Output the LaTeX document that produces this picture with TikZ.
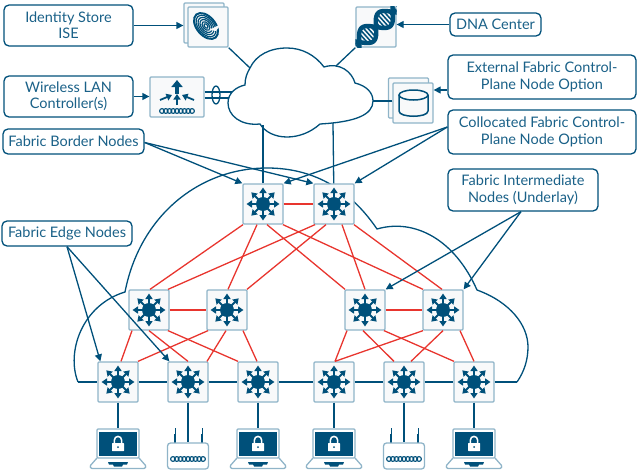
\documentclass[tikz,border=0pt]{standalone}
\usepackage{fontspec}
\setmainfont{Lato}
\usetikzlibrary{arrows.meta}
\definecolor{fabricblue}{HTML}{00507A}
\definecolor{labelblue}{HTML}{1A6188}
\definecolor{boxedge}{HTML}{8FB4C8}
\definecolor{boxfill}{HTML}{F8F9FA}
\definecolor{linkred}{HTML}{E8352E}
\tikzset{
  callout/.style={draw=fabricblue, line width=1.3pt, rounded corners=5pt, fill=white, text=labelblue,
    align=center, font=\fontsize{14.5}{16.2}\selectfont, inner sep=0pt},
  iconbox/.style={draw=boxedge, line width=1.3pt, fill=boxfill, rounded corners=1pt, inner sep=0pt,
    minimum width=40pt, minimum height=40pt},
  bluelink/.style={draw=fabricblue, line width=1.3pt},
  redlink/.style={draw=linkred, line width=1.3pt},
  pointer/.style={draw=fabricblue, line width=1.3pt, -{Triangle[length=7pt,width=7pt]}},
  glypharrow/.style={draw=fabricblue, line width=1.8pt, -{Triangle[length=5.5pt,width=7pt]}},
}
\newcommand{\swglyph}[1]{%
  \fill[fabricblue] (#1.center) circle (7);
  \foreach \ang in {0,45,...,315} {
    \draw[glypharrow] (#1.center) -- ++(\ang:16.5);
  }
}
\newcommand{\coilglyph}[3]{%
  \foreach \k in {0,...,8} {
    \draw[fabricblue, line width=1.1pt] ({#1+\k*#3},#2) circle (2.4);
  }
}
\begin{document}
\begin{tikzpicture}[x=1pt, y=-1pt]
  \useasboundingbox (0,0) rectangle (641,471);

  \coordinate (cloudL) at (78,382);
  \coordinate (cloudR) at (517,382);
  \draw[bluelink] (cloudL) .. controls (66,352) and (82,305) .. (125,292)
    .. controls (140,215) and (200,168) .. (267,168)
    .. controls (305,168) and (345,182) .. (377,229)
    .. controls (415,218) and (455,240) .. (477,290)
    .. controls (510,302) and (528,325) .. (528,347)
    .. controls (528,360) and (524,372) .. (cloudR);
  \draw[bluelink, fill=white] (250,68) .. controls (256,55) and (270,48) .. (287,48)
    .. controls (302,48) and (315,55) .. (324,67)
    .. controls (340,62) and (352,72) .. (355,83)
    .. controls (367,86) and (373,93) .. (373,101)
    .. controls (373,115) and (355,122) .. (320,124)
    .. controls (310,133) and (298,137) .. (287,137)
    .. controls (275,137) and (265,132) .. (260,124)
    .. controls (240,126) and (228,115) .. (228,103)
    .. controls (228,93) and (236,87) .. (245,85)
    .. controls (245,78) and (247,73) .. (250,68) -- cycle;
  \coordinate (cloudise) at (250,68);
  \coordinate (clouddna) at (336,66);
  \coordinate (clouddb) at (373,101);
  \coordinate (cloudb1) at (263,125);
  \coordinate (cloudb2) at (333,123);
  \coordinate (cloudwlcA) at (232,92);
  \coordinate (cloudwlcB) at (229,98);

  \node[callout, minimum width=129pt, minimum height=41pt] (lblise) at (68.5,25.5) {Identity Store\\ISE};
  \node[callout, minimum width=129pt, minimum height=41pt] (lblwlc) at (68.5,96.5) {Wireless LAN\\Controller(s)};
  \node[callout, minimum width=141pt, minimum height=25pt] (lblborder) at (73.5,141.5) {Fabric Border Nodes};
  \node[callout, minimum width=130pt, minimum height=25pt] (lbledge) at (67,233.5) {Fabric Edge Nodes};
  \node[callout, minimum width=150pt, minimum height=42pt] (lblinter) at (523,190) {Fabric Intermediate\\Nodes (Underlay)};
  \node[callout, minimum width=91pt, minimum height=23pt] (lbldna) at (495.5,24.5) {DNA Center};
  \node[callout, minimum width=188pt, minimum height=44pt] (lblext) at (542,77) {External Fabric Control-\\Plane Node Option};
  \node[callout, minimum width=188pt, minimum height=44pt] (lblcoll) at (542,132) {Collocated Fabric Control-\\Plane Node Option};

  \node[iconbox] (iseback) at (204,23) {};
  \node[iconbox] (ise) at (208,27) {};
  \node[iconbox] (dna) at (376,27) {};
  \node[iconbox] (dbback) at (408.5,98) {};
  \node[iconbox] (db) at (413,103) {};
  \node[iconbox, minimum width=54pt] (wlc) at (177,97) {};

  \node[iconbox] (b1) at (263,204) {};
  \node[iconbox] (b2) at (334,204) {};
  \node[iconbox] (m1) at (149,310) {};
  \node[iconbox] (m2) at (227,310) {};
  \node[iconbox] (m3) at (365,310) {};
  \node[iconbox] (m4) at (443,310) {};
  \node[iconbox] (e1) at (118,382) {};
  \node[iconbox] (e2) at (188,382) {};
  \node[iconbox] (e3) at (258,382) {};
  \node[iconbox] (e4) at (334,382) {};
  \node[iconbox] (e5) at (404,382) {};
  \node[iconbox] (e6) at (474,382) {};

  \foreach \sw in {b1,b2,m1,m2,m3,m4,e1,e2,e3,e4,e5,e6} {
    \swglyph{\sw}
  }

  \foreach \src/\fx/\dst/\tx in {b1/-20/m1/1, b1/-6/m2/1, b1/4/m3/-20, b1/20/m4/-20,
      b2/-19/m1/19, b2/-8/m2/20, b2/8/m3/0, b2/20/m4/-1,
      m1/-17/e1/3, m1/0/e2/0, m1/19/e3/-20,
      m2/-19/e1/20, m2/-1/e2/19, m2/16/e3/-1,
      m3/-18/e4/1, m3/-2/e5/-10, m3/19/e6/-20,
      m4/-20/e4/1, m4/0/e5/7, m4/17/e6/0} {
    \draw[redlink] ([xshift=\fx pt]\src.south) -- ([xshift=\tx pt]\dst.north);
  }
  \draw[redlink] (b1) -- (b2);
  \draw[redlink] (m1) -- (m2);
  \draw[redlink] (m3) -- (m4);

  \draw[bluelink] (cloudL) -- (e1);
  \foreach \src/\dst in {e1/e2,e2/e3,e3/e4,e4/e5,e5/e6} {
    \draw[bluelink] (\src) -- (\dst);
  }
  \draw[bluelink] (e6) -- (cloudR);

  \draw[bluelink] (ise.south east) -- (cloudise);
  \draw[bluelink] (dna.south west) -- (clouddna);
  \draw[bluelink] (db.west |- clouddb) -- (clouddb);
  \draw[bluelink] (b1) -- (cloudb1);
  \draw[bluelink] (b2) -- (cloudb2);
  \draw[bluelink] (wlc.east |- cloudwlcA) -- (cloudwlcA);
  \draw[bluelink] (wlc.east |- cloudwlcB) -- (cloudwlcB);
  \draw[bluelink] (216,95) ellipse (4 and 9);

  \draw[pointer] (lblise.east) -- (iseback.west |- lblise);
  \draw[pointer] (lblwlc.east) -- (wlc.west |- lblwlc);
  \draw[pointer] (lbldna.west) -- (dna.east |- lbldna);
  \draw[pointer] ([yshift=-13pt]lblext.west) -- ([yshift=-13pt]db.east |- lblext);
  \draw[pointer] ([yshift=-1pt]lblborder.east) -- (b1.north west);
  \draw[pointer] ([yshift=-1pt]lblborder.east) -- (b2.north west);
  \draw[pointer] ([yshift=5pt]lblcoll.west) -- (b1.north east);
  \draw[pointer] ([yshift=5pt]lblcoll.west) -- (b2.north east);
  \draw[pointer] (lbledge.south) -- ([xshift=3pt]e1.north west);
  \draw[pointer] (lbledge.south) -- ([xshift=2pt]e2.north west);
  \draw[pointer] ([xshift=-2pt]lblinter.south) -- (m3.north east);
  \draw[pointer] ([xshift=-2pt]lblinter.south) -- (m4.north east);

  \begin{scope}
    \clip (ise.south west) rectangle (ise.north east);
    \foreach \rad/\wid in {15/2, 12.5/1.2, 10/1.2, 7.5/1.2, 5/1.2, 2.5/1.2} {
      \draw[fabricblue, line width=\wid pt, rotate around={-50:(206,26)}] (206,26) ellipse ({\rad} and {\rad*0.62});
    }
    \fill[boxfill] (221,24) -- (216,31) -- (209,30) -- cycle;
  \end{scope}

  \begin{scope}
    \clip (dna.south west) rectangle (dna.north east);
    \begin{scope}[shift={(376,27)}, rotate=42]
      \foreach \u in {-30,-26.7,...,30} {
        \draw[fabricblue, line width=1.5pt] ({\u},{9*sin(\u*8)}) -- ({\u},{-9*sin(\u*8)});
      }
      \draw[fabricblue, line width=4.4pt] plot[domain=-32:32, samples=40, smooth] (\x,{9*sin(\x*8)});
      \draw[fabricblue, line width=4.4pt] plot[domain=-32:32, samples=40, smooth] (\x,{-9*sin(\x*8)});
    \end{scope}
  \end{scope}

  \draw[fabricblue, line width=1.5pt] (399,95) -- (399,111) .. controls (399,118) and (428,118) .. (428,111) -- (428,95);
  \draw[fabricblue, line width=1.5pt] (413.5,95) ellipse (14.5 and 5);

  \draw[glypharrow, line width=3.4pt, -{Triangle[length=7pt,width=11pt]}] (177,94) -- (177,80);
  \draw[glypharrow] (177,105) -- (177,94);
  \draw[glypharrow] (160,100) -- (172,95);
  \draw[glypharrow] (194,100) -- (182,95);
  \coilglyph{162}{111}{3.75}

  \foreach \lap/\lx in {lapA/118,lapB/258,lapC/334,lapD/474} {
    \node[draw=boxedge, line width=1.3pt, fill=white, rounded corners=1pt, minimum width=42pt, minimum height=29pt, inner sep=0pt] (\lap) at (\lx,443.5) {};
    \fill[fabricblue] (\lx-19,432) rectangle (\lx+19,456);
    \fill[white, rounded corners=0.5pt] (\lx-6,443) rectangle (\lx+6,451);
    \draw[white, line width=1.5pt] (\lx-3.6,444) -- (\lx-3.6,440) arc[start angle=180, end angle=360, radius=3.6] -- (\lx+3.6,444);
    \fill[fabricblue] (\lx,447) circle (1);
    \draw[boxedge, line width=1.3pt, rounded corners=1pt] (\lx-21,458) -- (\lx-28,466) -- (\lx-27,468.5) -- (\lx+27,468.5) -- (\lx+28,466) -- (\lx+21,458);
    \fill[fabricblue] (\lx-10,462) -- (\lx+10,462) -- (\lx+9,464.5) -- (\lx+5,464.5) -- (\lx+4,466.5) -- (\lx-4,466.5) -- (\lx-5,464.5) -- (\lx-9,464.5) -- cycle;
  }
  \foreach \ap/\lx in {apA/188,apB/404} {
    \draw[fabricblue, line width=1pt] (\lx-13,428) -- (\lx-13,436);
    \draw[fabricblue, line width=1pt] (\lx+14,428) -- (\lx+14,436);
    \draw[fabricblue, line width=2.4pt] (\lx-13,434) -- (\lx-13,443);
    \draw[fabricblue, line width=2.4pt] (\lx+14,434) -- (\lx+14,443);
    \node[draw=boxedge, line width=1.3pt, fill=white, rounded corners=3pt, minimum width=41pt, minimum height=26pt, inner sep=0pt] (\ap) at (\lx,456) {};
    \coilglyph{\lx-15}{459}{3.75}
  }

  \draw[bluelink] (e1) -- (lapA);
  \draw[bluelink] (e2) -- (apA);
  \draw[bluelink] (e3) -- (lapB);
  \draw[bluelink] (e4) -- (lapC);
  \draw[bluelink] (e5) -- (apB);
  \draw[bluelink] (e6) -- (lapD);
\end{tikzpicture}
\end{document}
